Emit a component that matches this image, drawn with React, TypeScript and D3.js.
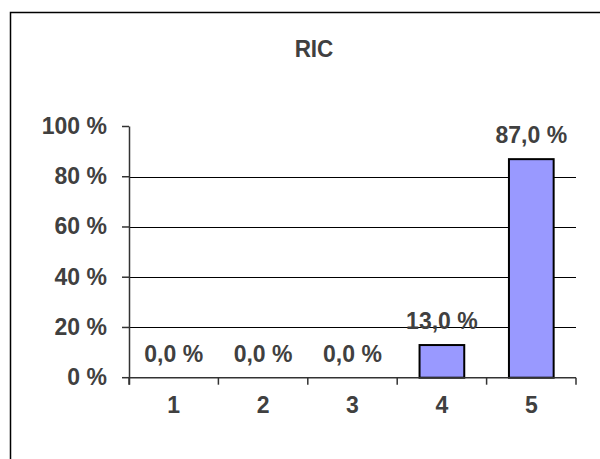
import React from "react";
import * as d3 from "d3";

const categories = ["1", "2", "3", "4", "5"];
const values = [0, 0, 0, 13, 87];
const valueLabels = ["0,0 %", "0,0 %", "0,0 %", "13,0 %", "87,0 %"];
const yTicks = [0, 20, 40, 60, 80, 100];
const gridTicks = [20, 40, 60, 80];
const title = "RIC";

export default function App() {
  const W = 600, H = 459;
  const x0 = 129, x1 = 576, y0 = 377.7, y1 = 126.5;
  const x = d3.scaleBand<string>().domain(categories).range([x0, x1]).paddingInner(0.5).paddingOuter(0.25);
  const y = d3.scaleLinear().domain([0, 100]).range([y0, y1]);
  const step = (x1 - x0) / categories.length;
  const font = "'Liberation Sans', Arial, sans-serif";
  const txt = "#404040";
  const fs = 23;
  return (
    <svg width={W} height={H} style={{ position: "absolute", left: 0, top: 0, background: "#fff" }}>
      <rect x={10.5} y={12.5} width={620} height={470} fill="#fff" stroke="#000" strokeWidth={1.5} />
      <text x={314} y={57} textAnchor="middle" fontFamily={font} fontWeight="bold" fontSize={22.5} fill={txt}
        transform="translate(0,57) scale(1,1.06) translate(0,-57)">{title}</text>
      {gridTicks.map((t) => (
        <line key={t} x1={x0} x2={x1} y1={Math.round(y(t)) + 0.5} y2={Math.round(y(t)) + 0.5} stroke="#000" strokeWidth={1} />
      ))}
      {categories.map((c, i) => (
        <rect key={c} x={x(c)} y={y(values[i])} width={x.bandwidth()} height={y0 - y(values[i])}
          fill="#9999FF" stroke="#000" strokeWidth={2} />
      ))}
      <line x1={x0 + 0.5} x2={x0 + 0.5} y1={y1} y2={y0 + 7} stroke="#333" strokeWidth={1.5} />
      <line x1={x0} x2={x1} y1={y0} y2={y0} stroke="#333" strokeWidth={1.5} />
      {yTicks.map((t) => (
        <g key={t}>
          <line x1={x0 - 7} x2={x0} y1={y(t)} y2={y(t)} stroke="#333" strokeWidth={1.5} />
          <text x={107} y={y(t) + 7.5} textAnchor="end" fontFamily={font} fontWeight="bold" fontSize={fs} fill={txt}>{t} %</text>
        </g>
      ))}
      {d3.range(categories.length + 1).map((i) => (
        <line key={i} x1={x0 + i * step} x2={x0 + i * step} y1={y0} y2={y0 + 7} stroke="#333" strokeWidth={1.5} />
      ))}
      {categories.map((c) => (
        <text key={c} x={(x(c) as number) + x.bandwidth() / 2} y={413} textAnchor="middle" fontFamily={font} fontWeight="bold" fontSize={fs} fill={txt}>{c}</text>
      ))}
      {categories.map((c, i) => (
        <text key={c} x={(x(c) as number) + x.bandwidth() / 2} y={y(values[i]) - 16} textAnchor="middle" fontFamily={font} fontWeight="bold" fontSize={fs} fill={txt}>{valueLabels[i]}</text>
      ))}
    </svg>
  );
}
